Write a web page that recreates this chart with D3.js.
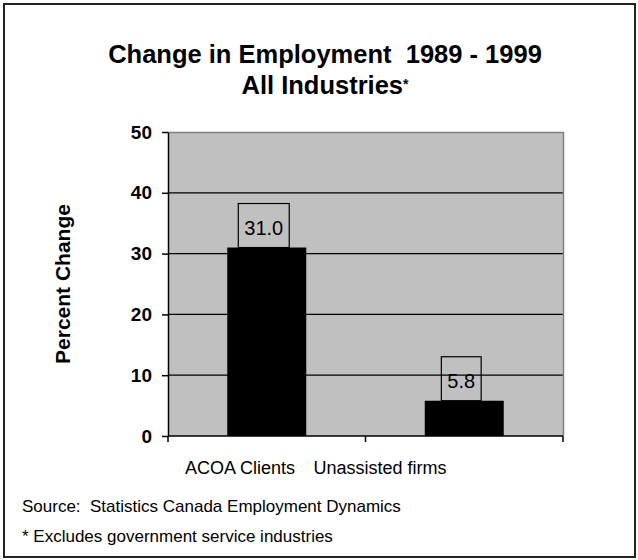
<!DOCTYPE html>
<html lang="en">
<head>
    <meta charset="UTF-8">
    <title>Change in Employment 1989 - 1999</title>
    <script src="https://d3js.org/d3.v7.min.js"></script>
    <style>
        body { margin: 0; background: #fff; }
        text { font-family: Arial, "Liberation Sans", sans-serif; fill: #000; }
    </style>
</head>
<body>
    <div id="chart"></div>

    <script>
        // data
        const categories = ["ACOA Clients", "Unassisted firms"];
        const values = [31.0, 5.8];
        const yTicks = [0, 10, 20, 30, 40, 50];

        const width = 638;
        const height = 560;
        const plotLeft = 168, plotRight = 563, plotTop = 132, plotBottom = 436;

        const svg = d3.select("#chart").append("svg")
            .attr("width", width)
            .attr("height", height);

        // outer frame
        svg.append("rect")
            .attr("x", 4).attr("y", 4)
            .attr("width", width - 7).attr("height", height - 7)
            .attr("fill", "#fff")
            .attr("stroke", "#222")
            .attr("stroke-width", 2);

        // title
        const title = svg.append("text")
            .attr("text-anchor", "middle")
            .attr("font-weight", "bold")
            .attr("font-size", 25.5);
        title.append("tspan").attr("x", width / 2 + 6).attr("y", 63)
            .text("Change in Employment\u00a0\u00a01989 - 1999");
        const t2 = title.append("tspan").attr("x", width / 2 + 6).attr("y", 94)
            .text("All Industries");
        t2.append("tspan").attr("font-size", 14).attr("dy", -5).text("*");

        const y = d3.scaleLinear().domain([0, 50]).range([plotBottom, plotTop]);

        const x = d3.scaleBand()
            .domain(categories)
            .range([plotLeft, plotRight])
            .paddingInner(0.6)
            .paddingOuter(0.3);

        const xCat = d3.scaleBand().domain(categories).range([plotLeft, plotRight]);

        // plot background
        svg.append("rect")
            .attr("x", plotLeft).attr("y", plotTop)
            .attr("width", plotRight - plotLeft).attr("height", plotBottom - plotTop)
            .attr("fill", "#c0c0c0");

        // grid lines
        svg.selectAll(".grid")
            .data(yTicks.filter(d => d > 0 && d < 50))
            .enter().append("line")
            .attr("x1", plotLeft).attr("x2", plotRight)
            .attr("y1", d => y(d)).attr("y2", d => y(d))
            .attr("stroke", "#000")
            .attr("stroke-width", 1.2);

        // grey border top and right
        svg.append("path")
            .attr("d", `M${plotLeft},${plotTop + 0.5}H${plotRight + 0.5}V${plotBottom}`)
            .attr("fill", "none")
            .attr("stroke", "#808080")
            .attr("stroke-width", 1.5);

        // bars
        svg.selectAll(".bar")
            .data(values)
            .enter().append("rect")
            .attr("class", "bar")
            .attr("x", (d, i) => x(categories[i]))
            .attr("y", d => y(d))
            .attr("width", x.bandwidth())
            .attr("height", d => y(0) - y(d))
            .attr("fill", "#000");

        // value labels in boxes
        const labels = svg.selectAll(".vlabel")
            .data(values)
            .enter().append("g")
            .attr("class", "vlabel");

        labels.each(function (d, i) {
            const g = d3.select(this);
            const cx = x(categories[i]) + x.bandwidth() / 2 - 3;
            const txt = g.append("text")
                .attr("x", cx)
                .attr("y", y(d) - 13)
                .attr("text-anchor", "middle")
                .attr("font-size", 20)
                .text(d.toFixed(1));
            const w = txt.node().getComputedTextLength() + 12;
            g.insert("rect", "text")
                .attr("x", cx - w / 2)
                .attr("y", y(d) - 44)
                .attr("width", w)
                .attr("height", 44)
                .attr("fill", "none")
                .attr("stroke", "#000")
                .attr("stroke-width", 1.2);
        });

        // y axis
        const yAxis = svg.append("g")
            .attr("transform", `translate(${plotLeft},0)`)
            .call(d3.axisLeft(y).tickValues(yTicks).tickSize(6).tickPadding(10).tickSizeOuter(0));
        yAxis.select(".domain").attr("stroke", "#000").attr("stroke-width", 1.5);
        yAxis.selectAll(".tick line").attr("stroke", "#000").attr("stroke-width", 1.5);
        yAxis.selectAll(".tick text")
            .attr("font-family", "Arial, 'Liberation Sans', sans-serif")
            .attr("font-weight", "bold")
            .attr("font-size", 19)
            .attr("fill", "#000");

        // x axis line with ticks at category boundaries
        svg.append("line")
            .attr("x1", plotLeft).attr("x2", plotRight)
            .attr("y1", plotBottom).attr("y2", plotBottom)
            .attr("stroke", "#000").attr("stroke-width", 1.5);
        const bounds = categories.map(c => xCat(c)).concat([plotRight]);
        svg.selectAll(".xtick")
            .data(bounds)
            .enter().append("line")
            .attr("x1", d => d).attr("x2", d => d)
            .attr("y1", plotBottom).attr("y2", plotBottom + 6)
            .attr("stroke", "#000").attr("stroke-width", 1.5);

        // category labels (sit left of the bars in the original)
        const labelX = d3.scalePoint().domain(categories).range([plotLeft + 72, plotLeft + 212]);
        svg.selectAll(".cat")
            .data(categories)
            .enter().append("text")
            .attr("x", d => labelX(d))
            .attr("y", 474)
            .attr("text-anchor", "middle")
            .attr("font-size", 18)
            .text(d => d);

        // axis title
        svg.append("text")
            .attr("transform", "translate(70,284) rotate(-90)")
            .attr("text-anchor", "middle")
            .attr("font-weight", "bold")
            .attr("font-size", 21)
            .text("Percent Change");

        // notes
        svg.append("text")
            .attr("x", 22).attr("y", 512)
            .attr("font-size", 17)
            .text("Source:\u00a0\u00a0Statistics Canada Employment Dynamics");
        svg.append("text")
            .attr("x", 22).attr("y", 542)
            .attr("font-size", 17)
            .text("* Excludes government service industries");
    </script>
</body>
</html>
